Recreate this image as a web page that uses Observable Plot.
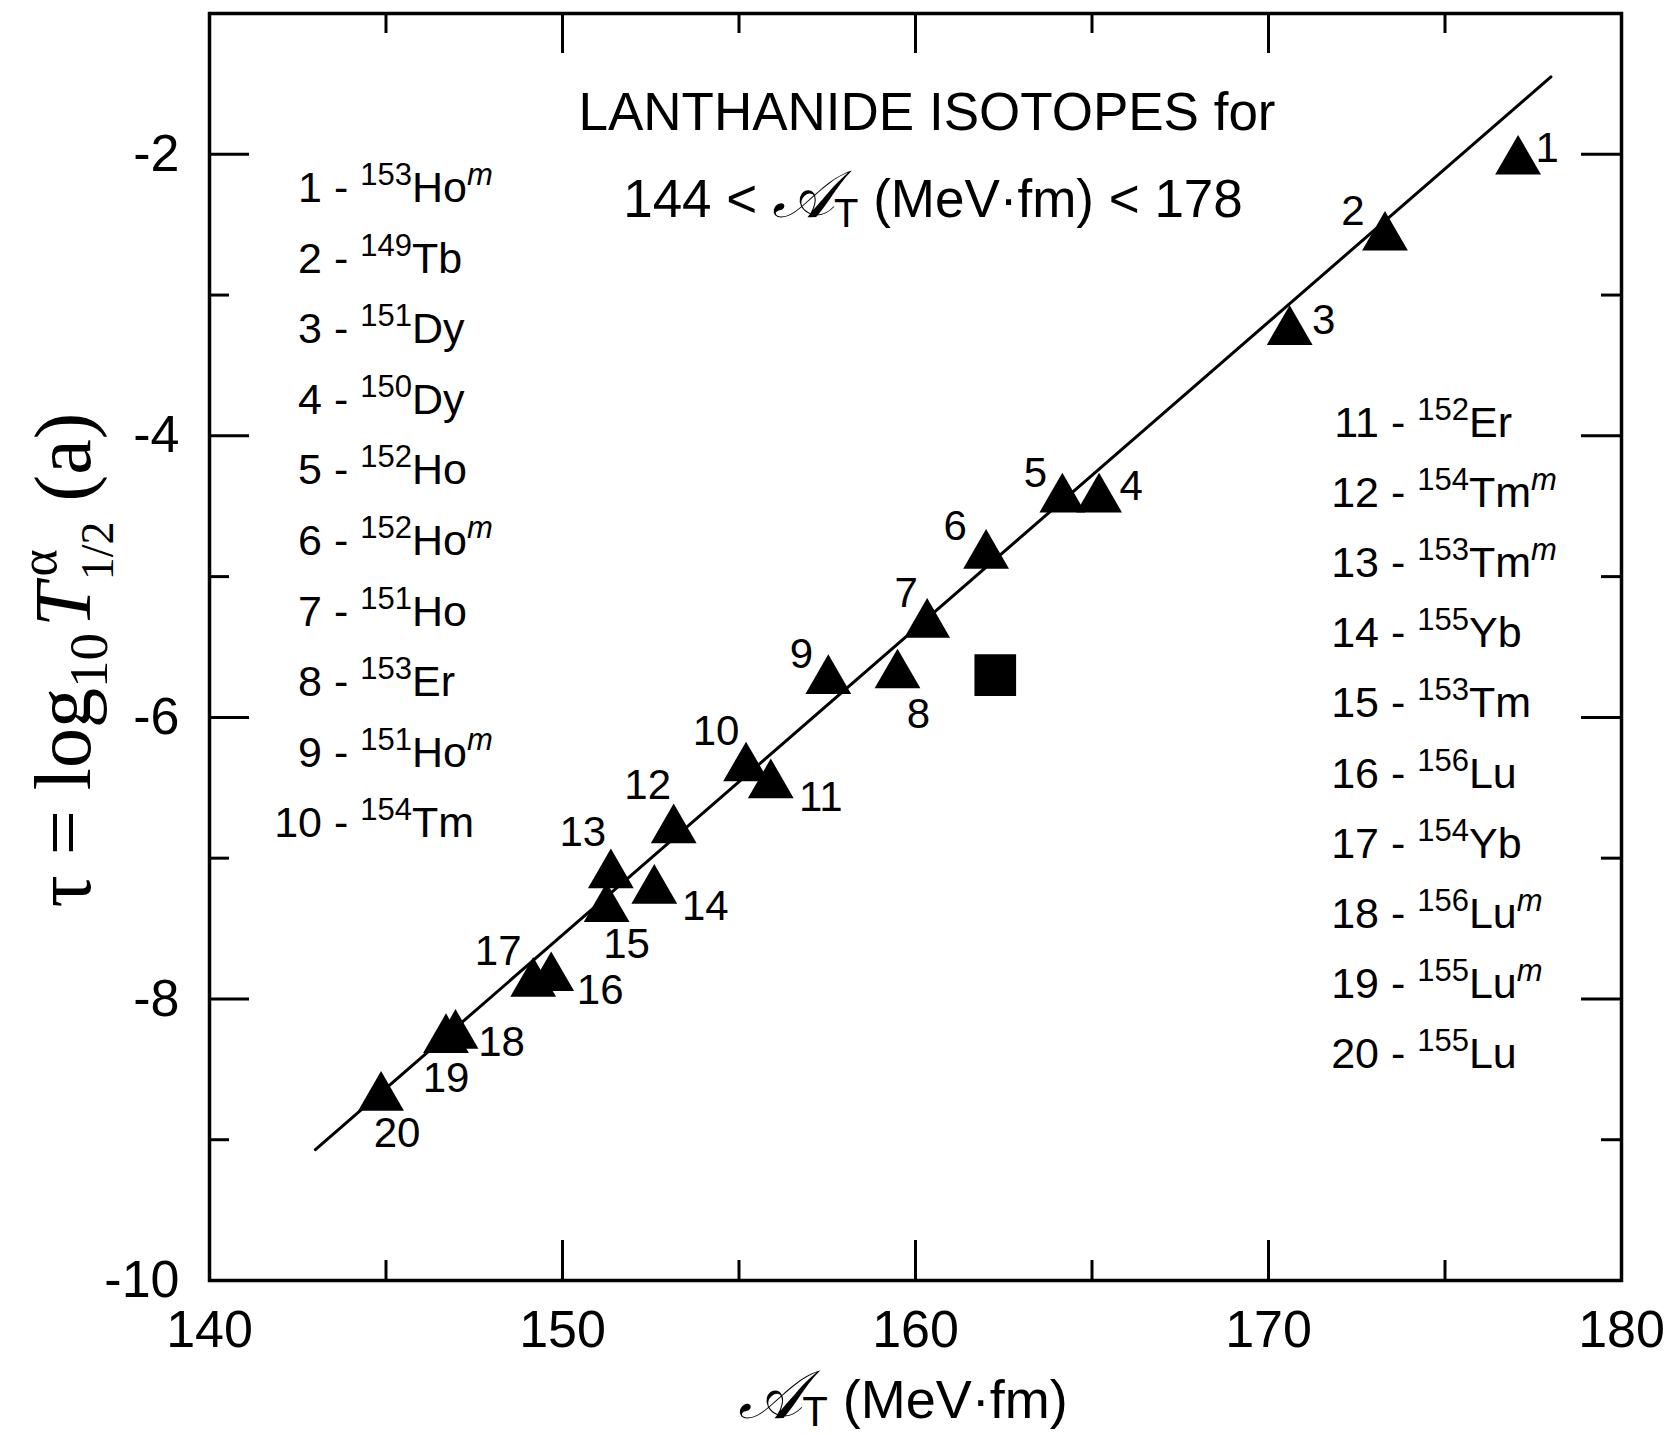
<!DOCTYPE html>
<html><head><meta charset="utf-8">
<script src="https://cdn.jsdelivr.net/npm/d3@7"></script>
<script src="https://cdn.jsdelivr.net/npm/@observablehq/plot@0.6"></script>
<style>
html,body{margin:0;padding:0;background:#fff;}
#chart svg{display:block;}
#chart svg text{white-space:pre;}
</style>
</head><body><div id="chart"></div>
<script>
// ---- data ----
const pointIds = [1,2,3,4,5,6,7,8,9,10,11,12,13,14,15,16,17,18,19,20];
const actionAT = [177.07,173.3,170.6,165.2,164.16,162.0,160.33,159.49,157.53,155.2,155.9,153.15,151.37,152.6,151.25,149.68,149.17,146.97,146.7,144.86];
const tauValues = [-2.05,-2.59,-3.26,-4.45,-4.45,-4.85,-5.34,-5.70,-5.74,-6.36,-6.48,-6.80,-7.12,-7.23,-7.36,-7.85,-7.89,-8.26,-8.29,-8.70];
const squareAT = [162.26];
const squareTau = [-5.70];
const fitAT = [143, 178];
const fitTau = [-9.07, -1.45];
const massNumbers = [153,149,151,150,152,152,151,153,151,154,152,154,153,155,153,156,154,156,155,155];
const elements = ["Ho","Tb","Dy","Dy","Ho","Ho","Ho","Er","Ho","Tm","Er","Tm","Tm","Yb","Tm","Lu","Yb","Lu","Lu","Lu"];
const metastable = [true,false,false,false,false,true,false,false,true,false,false,true,true,false,false,false,false,true,true,false];
const xTicks = [140,150,160,170,180];
const xMinorTicks = [145,155,165,175];
const yTicks = [-10,-8,-6,-4,-2];
const yMinorTicks = [-9,-7,-5,-3];

// ---- styling / label placement (pixels) ----
const labelOffsets = [[29,-13],[-32,-26],[34,-11],[32,-13],[-27,-26],[-31,-29],[-21,-31],[21,39],[-27,-26],[-30,-37],
  [50,13],[-26,-44],[-28,-43],[51,16],[20,36],[49,13],[-35,-32],[46,7],[0,39],[16,36]];

const W = 1670, H = 1435;
const mL = 209, mR = 49, mT = 13, mB = 155;
const plotW = W - mL - mR, plotH = H - mT - mB;
const SANS = "'Liberation Sans', Arial, sans-serif";
const SERIF = "'Liberation Serif', 'Times New Roman', serif";
const majorLen = 40, minorLen = 20, tickW = 3;

const points = pointIds.map((id, i) => ({id, x: actionAT[i], y: tauValues[i]}));
const square = squareAT.map((x, i) => ({x, y: squareTau[i]}));
const fit = fitAT.map((x, i) => ({x, y: fitTau[i]}));

const marks = [
  Plot.line(fit, {x: "x", y: "y", stroke: "black", strokeWidth: 3}),
  Plot.dot(points, {x: "x", y: "y", symbol: "triangle", r: 17, fill: "black", stroke: "none"}),
  Plot.dot(square, {x: "x", y: "y", symbol: "square", r: 23.5, fill: "black", stroke: "none"}),
  // inward ticks
  Plot.ruleX(xTicks, {insetTop: plotH - majorLen, strokeWidth: tickW}),
  Plot.ruleX(xTicks, {insetBottom: plotH - majorLen, strokeWidth: tickW}),
  Plot.ruleX(xMinorTicks, {insetTop: plotH - minorLen, strokeWidth: tickW}),
  Plot.ruleX(xMinorTicks, {insetBottom: plotH - minorLen, strokeWidth: tickW}),
  Plot.ruleY(yTicks, {insetRight: plotW - majorLen, strokeWidth: tickW}),
  Plot.ruleY(yTicks, {insetLeft: plotW - majorLen, strokeWidth: tickW}),
  Plot.ruleY(yMinorTicks, {insetRight: plotW - minorLen, strokeWidth: tickW}),
  Plot.ruleY(yMinorTicks, {insetLeft: plotW - minorLen, strokeWidth: tickW}),
  Plot.frame({stroke: "black", strokeWidth: 3.5}),
  Plot.axisX({ticks: xTicks, tickSize: 0, tickPadding: 30, fontSize: 52, tickFormat: d => String(d), label: null}),
  Plot.axisY({ticks: yTicks, tickSize: 0, tickPadding: 30, fontSize: 52, tickFormat: d => String(d), label: null}),
  ...points.map((p, i) => Plot.text([p], {x: "x", y: "y", text: d => String(d.id), dx: labelOffsets[i][0], dy: labelOffsets[i][1], fontSize: 42, fill: "black"}))
];

const chart = Plot.plot({
  width: W, height: H,
  marginLeft: mL, marginRight: mR, marginTop: mT, marginBottom: mB,
  x: {domain: [140, 180]},
  y: {domain: [-10, -1]},
  style: {fontFamily: SANS, color: "black", background: "white", overflow: "visible"},
  marks
});
document.getElementById("chart").appendChild(chart);

const svg = d3.select(chart);

// ---- legend lists ----
function legendEntry(g, x, y, i) {
  g.append("text").attr("x", x).attr("y", y).attr("text-anchor", "end")
    .attr("font-size", 43).attr("font-family", SANS).text(pointIds[i]);
  const t = g.append("text").attr("x", x).attr("y", y).attr("text-anchor", "start")
    .attr("font-size", 43).attr("font-family", SANS);
  t.append("tspan").text(" - ");
  t.append("tspan").attr("font-size", 31).attr("dy", -17).text(massNumbers[i]);
  t.append("tspan").attr("dy", 17).text(elements[i]);
  if (metastable[i]) t.append("tspan").attr("font-size", 31).attr("font-style", "italic").attr("dy", -17).text("m");
}
const lg = svg.append("g");
for (let i = 0; i < 10; i++) legendEntry(lg, 322, 202 + i * 70.6, i);
for (let i = 10; i < 20; i++) legendEntry(lg, 1379, 437 + (i - 10) * 70.1, i);

// ---- title ----
const tg = svg.append("g").attr("font-family", SANS).attr("font-size", 53).attr("text-anchor", "middle");
tg.append("text").attr("x", 927).attr("y", 130).text("LANTHANIDE ISOTOPES for");
const t2 = tg.append("text").attr("x", 933).attr("y", 217);
t2.append("tspan").text("144 < ");
t2.append("tspan").attr("font-family", SERIF).attr("font-style", "italic").attr("font-size", 66).text("\u{1D49C}");
t2.append("tspan").attr("font-size", 40).attr("dy", 10).text("T");
t2.append("tspan").attr("dy", -10).text(" (MeV\u00B7fm) < 178");

// ---- x axis label ----
const xl = svg.append("text").attr("x", 903).attr("y", 1418).attr("text-anchor", "middle")
  .attr("font-family", SANS).attr("font-size", 54);
xl.append("tspan").attr("font-family", SERIF).attr("font-style", "italic").attr("font-size", 68).text("\u{1D49C}");
xl.append("tspan").attr("font-size", 42).attr("dy", 8).text("T");
xl.append("tspan").attr("dy", -8).text(" (MeV\u00B7fm)");

// ---- y axis label ----
const yl = svg.append("text").attr("transform", "translate(90,660) rotate(-90)")
  .attr("text-anchor", "middle").attr("font-family", SERIF).attr("font-size", 80);
yl.append("tspan").text("\u03C4 = log");
yl.append("tspan").attr("font-size", 55).attr("dy", 17).text("10");
yl.append("tspan").attr("dy", -17).attr("dx", 6).attr("font-style", "italic").text("T");
yl.append("tspan").attr("font-size", 52).attr("dy", -34).attr("dx", 6).text("\u03B1");
yl.append("tspan").attr("font-size", 46).attr("dy", 57).attr("dx", -31).text("1/2");
yl.append("tspan").attr("dy", -23).text(" (a)");
</script>
</body></html>
